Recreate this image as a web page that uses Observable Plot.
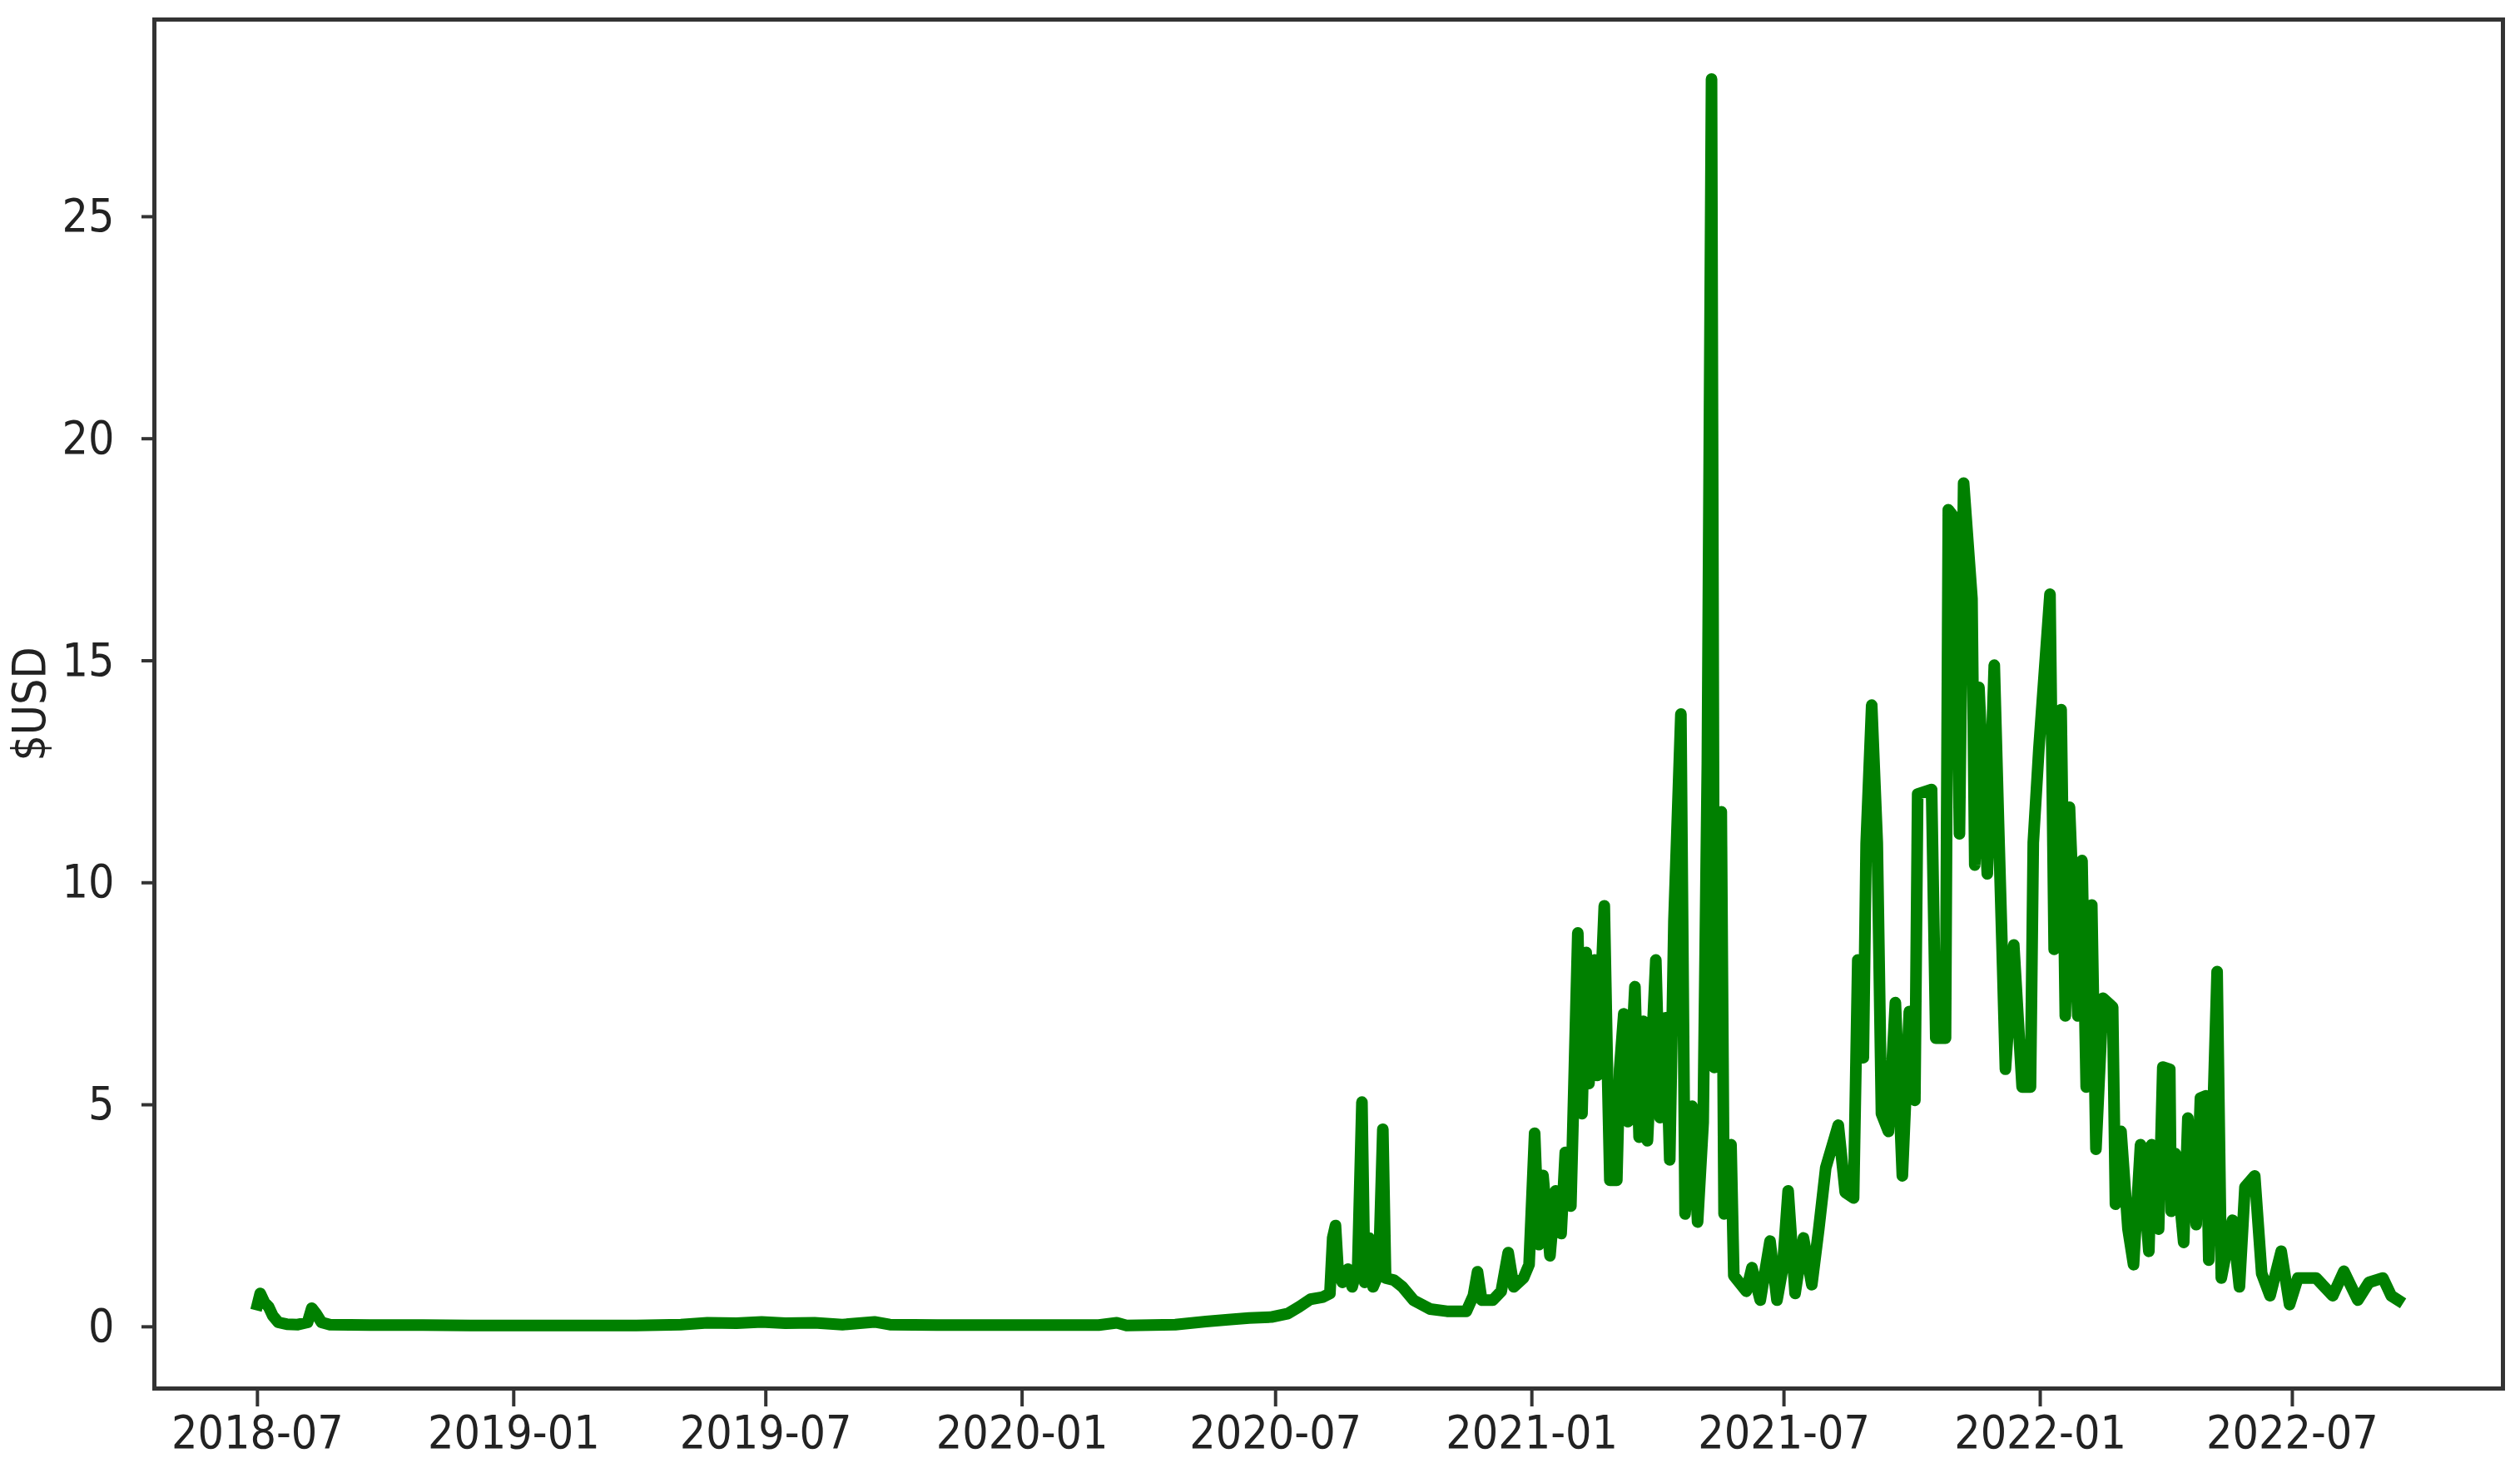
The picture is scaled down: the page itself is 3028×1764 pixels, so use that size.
<!DOCTYPE html>
<html>
<head>
<meta charset="utf-8">
<script src="https://cdn.jsdelivr.net/npm/d3@7"></script>
<script src="https://cdn.jsdelivr.net/npm/@observablehq/plot@0.6"></script>
<style>
  html, body { margin: 0; padding: 0; background: #fff; }
  svg { display: block; }
</style>
</head>
<body>
<div id="chart"></div>
<script>
// Daily price, in $USD
const dates = [
  "2018-07-01","2018-07-03","2018-07-06","2018-07-09","2018-07-12","2018-07-16","2018-07-22","2018-07-30",
  "2018-08-06","2018-08-09","2018-08-12","2018-08-16","2018-08-22","2018-09-20","2018-10-25","2018-12-01",
  "2019-01-10","2019-02-20","2019-03-30","2019-05-01","2019-05-20","2019-06-10","2019-06-28","2019-07-15",
  "2019-08-05","2019-08-25","2019-09-17","2019-09-28","2019-11-01","2019-12-10","2020-01-20","2020-02-25",
  "2020-03-09","2020-03-16","2020-04-20","2020-05-12","2020-05-28","2020-06-12","2020-06-28","2020-07-10",
  "2020-07-18","2020-07-26","2020-08-04","2020-08-09","2020-08-11","2020-08-13","2020-08-15","2020-08-18",
  "2020-08-22","2020-08-25","2020-08-29","2020-09-01","2020-09-03","2020-09-06","2020-09-09","2020-09-13",
  "2020-09-16","2020-09-18","2020-09-24","2020-09-30","2020-10-08","2020-10-20","2020-11-01","2020-11-15",
  "2020-11-20","2020-11-23","2020-11-26","2020-12-04","2020-12-10","2020-12-15","2020-12-19","2020-12-26",
  "2020-12-30","2021-01-03","2021-01-06","2021-01-09","2021-01-14","2021-01-18","2021-01-22","2021-01-25",
  "2021-01-29","2021-02-03","2021-02-06","2021-02-09","2021-02-11","2021-02-15","2021-02-17","2021-02-22",
  "2021-02-24","2021-02-26","2021-03-03","2021-03-05","2021-03-08","2021-03-11","2021-03-16","2021-03-19",
  "2021-03-22","2021-03-25","2021-03-31","2021-04-03","2021-04-07","2021-04-10","2021-04-13","2021-04-18",
  "2021-04-21","2021-04-26","2021-04-30","2021-05-04","2021-05-07","2021-05-10","2021-05-12","2021-05-17",
  "2021-05-19","2021-05-24","2021-05-26","2021-06-04","2021-06-08","2021-06-14","2021-06-21","2021-06-26",
  "2021-06-30","2021-07-04","2021-07-09","2021-07-15","2021-07-21","2021-07-26","2021-07-31","2021-08-09",
  "2021-08-14","2021-08-20","2021-08-23","2021-08-27","2021-08-29","2021-09-02","2021-09-06","2021-09-09",
  "2021-09-14","2021-09-19","2021-09-24","2021-09-29","2021-10-03","2021-10-05","2021-10-15","2021-10-18",
  "2021-10-25","2021-10-27","2021-11-01","2021-11-04","2021-11-07","2021-11-13","2021-11-15","2021-11-18",
  "2021-11-24","2021-11-29","2021-12-02","2021-12-05","2021-12-07","2021-12-13","2021-12-19","2021-12-25",
  "2021-12-27","2021-12-31","2022-01-08","2022-01-11","2022-01-16","2022-01-19","2022-01-22","2022-01-28",
  "2022-01-31","2022-02-03","2022-02-07","2022-02-10","2022-02-15","2022-02-22","2022-02-24","2022-02-28",
  "2022-03-05","2022-03-09","2022-03-14","2022-03-20","2022-03-22","2022-03-27","2022-03-30","2022-04-04",
  "2022-04-05","2022-04-08","2022-04-14","2022-04-17","2022-04-23","2022-04-26","2022-04-30","2022-05-02",
  "2022-05-08","2022-05-11","2022-05-19","2022-05-24","2022-05-28","2022-06-04","2022-06-09","2022-06-15",
  "2022-06-23","2022-06-29","2022-07-05","2022-07-18","2022-07-30","2022-08-07","2022-08-17","2022-08-25",
  "2022-09-04","2022-09-10","2022-09-15"
];
const usd = [
  0.5, 0.75, 0.55, 0.45, 0.25, 0.1, 0.06, 0.05,
  0.1, 0.42, 0.3, 0.1, 0.05, 0.04, 0.04, 0.03,
  0.03, 0.03, 0.03, 0.05, 0.09, 0.08, 0.11, 0.08,
  0.09, 0.05, 0.11, 0.05, 0.04, 0.04, 0.04, 0.04,
  0.09, 0.03, 0.05, 0.12, 0.16, 0.2, 0.22, 0.3,
  0.45, 0.62, 0.67, 0.75, 2.0, 2.28, 1.2, 1.0,
  1.3, 0.9, 1.4, 5.06, 1.0, 2.0, 0.9, 1.2,
  4.45, 1.1, 1.05, 0.9, 0.6, 0.4, 0.35, 0.35,
  0.7, 1.24, 0.6, 0.6, 0.8, 1.67, 0.9, 1.1,
  1.4, 4.36, 1.85, 3.41, 1.6, 3.06, 2.1, 3.93,
  2.72, 8.87, 4.8, 8.43, 5.48, 8.26, 5.66, 9.48,
  6.18, 3.3, 3.3, 5.8, 7.05, 4.62, 7.66, 4.27,
  6.88, 4.19, 8.26, 4.71, 6.96, 3.76, 9.14, 13.8,
  2.54, 4.97, 2.36, 4.6, 12.68, 28.1, 5.84, 11.6,
  2.54, 4.1, 1.15, 0.8, 1.33, 0.6, 1.93, 0.6,
  1.3, 3.06, 0.75, 2.0, 0.95, 2.2, 3.58, 4.54,
  3.03, 2.9, 8.26, 6.06, 10.88, 14.0, 10.9, 4.8,
  4.4, 7.3, 3.4, 7.1, 5.1, 12.0, 12.1, 6.5,
  6.5, 18.4, 18.2, 11.1, 19.0, 16.4, 10.4, 14.4,
  10.2, 14.9, 11.4, 8.1, 5.8, 8.6, 5.4, 5.4,
  10.9, 13.0, 16.5, 8.5, 13.9, 7.0, 11.7, 7.0,
  10.5, 5.4, 9.5, 4.0, 7.4, 7.2, 2.76, 4.4,
  2.2, 1.4, 4.1, 1.7, 4.1, 2.2, 5.85, 5.8,
  2.6, 3.9, 1.9, 4.7, 2.3, 5.15, 5.2, 1.5,
  8.0, 1.1, 2.4, 0.9, 3.15, 3.4, 1.2, 0.7,
  1.7, 0.5, 1.1, 1.1, 0.7, 1.25, 0.6, 1.0,
  1.1, 0.7, 0.6
];
const xTicks = ["2018-07-01","2019-01-01","2019-07-01","2020-01-01","2020-07-01","2021-01-01","2021-07-01","2022-01-01","2022-07-01"];
const yTicks = [0, 5, 10, 15, 20, 25];
const yLabel = "$USD";

const rows = dates.map((d, i) => ({date: new Date(d + "T00:00:00Z"), usd: usd[i]}));

const fontFamily = "'DejaVu Sans Condensed', 'DejaVu Sans', sans-serif";

const chart = Plot.plot({
  width: 3028,
  height: 1764,
  marginLeft: 185,
  marginRight: 21,
  marginTop: 23,
  marginBottom: 96,
  style: {
    fontFamily,
    fontSize: "55px",
    fontStretch: "condensed",
    color: "#222",
    background: "#fff",
    overflow: "visible"
  },
  x: {type: "utc", domain: [new Date("2018-04-18T00:00:00Z"), new Date("2022-11-29T05:00:00Z")]},
  y: {domain: [-1.39, 29.44]},
  marks: [
    Plot.lineY(rows, {x: "date", y: "usd", stroke: "#008000", strokeWidth: 14, strokeLinejoin: "round", strokeLinecap: "square"}),
    Plot.frame({stroke: "#333", strokeWidth: 5}),
    Plot.axisX({
      ticks: xTicks.map(d => new Date(d + "T00:00:00Z")),
      tickFormat: d3.utcFormat("%Y-%m"),
      tickSize: 22,
      tickPadding: 10,
      stroke: "#333",
      strokeWidth: 4,
      label: null
    }),
    Plot.axisY({
      ticks: yTicks,
      tickSize: 15,
      tickPadding: 33,
      stroke: "#333",
      strokeWidth: 4,
      label: null
    }),
    Plot.text([yLabel], {frameAnchor: "left", dx: -149, rotate: -90, textAnchor: "middle", fill: "#222"})
  ]
});
document.getElementById("chart").appendChild(chart);
</script>
</body>
</html>
